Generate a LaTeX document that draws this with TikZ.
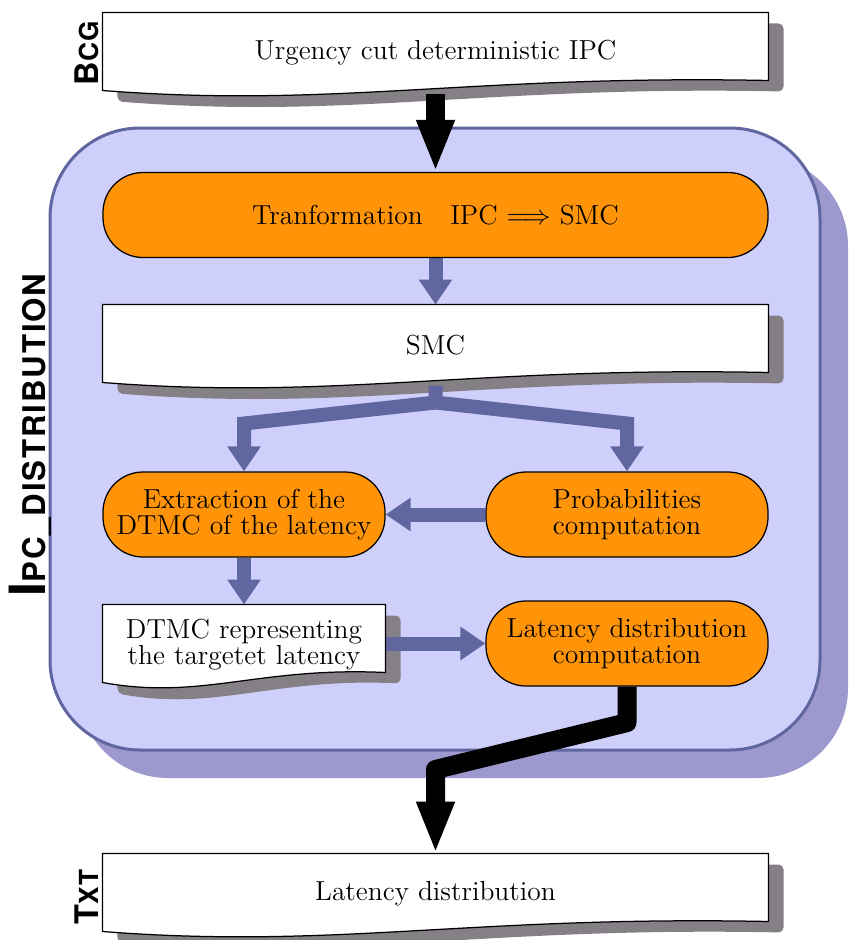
\documentclass[tikz,border=0pt]{standalone}
\usepackage{fontspec}
\newfontfamily\lblfont[LetterSpace=6]{TeX Gyre Heros}
\usetikzlibrary{arrows.meta,calc}
\definecolor{contfill}{HTML}{CFCFFB}
\definecolor{contline}{HTML}{6066A0}
\definecolor{contshadow}{HTML}{9D99CE}
\definecolor{procorange}{HTML}{FF9408}
\definecolor{docshadow}{HTML}{858085}
\definecolor{arrowblue}{HTML}{6066A0}
\pgfdeclarelayer{l0}\pgfdeclarelayer{l1}\pgfdeclarelayer{l2}\pgfdeclarelayer{l3}
\pgfsetlayers{l0,l1,l2,l3,main}
% #1 node, #2 #3 offset (px), #4 options
\newcommand{\docshape}[4]{\path[#4]
 ($(#1.north west)+(#2,#3)$) -- ($(#1.north east)+(#2,#3)$) -- ($(#1.north east)+(#2,#3+68)$)
 .. controls ($(#1.north west)!0.55!(#1.north east)+(#2,#3+62)$) and ($(#1.north west)!0.35!(#1.north east)+(#2,#3+96)$) .. ($(#1.north west)+(#2,#3+78)$) -- cycle;}
\tikzset{
 doc/.style={rectangle, minimum width=266pt, minimum height=32pt, inner sep=0pt, align=center, font=\fontsize{11}{10.5}\selectfont},
 proc/.style={rectangle, draw=black, line width=0.5pt, fill=procorange, rounded corners=16pt, minimum width=112.8pt, minimum height=34pt, inner sep=0pt, align=center, font=\fontsize{11}{10.5}\selectfont},
 blk/.style={draw=black, line width=7.6pt, line join=round, -{Triangle[length=20.8pt,width=14pt]}},
 blu/.style={draw=arrowblue, line width=5.6pt, -{Triangle[length=10pt,width=12.8pt]}},
 lbl/.style={rotate=90, inner sep=0pt, font=\lblfont\bfseries},
}
\begin{document}
\begin{tikzpicture}[x=0.4pt,y=-0.4pt]
\useasboundingbox (0,0) rectangle (850,940);
% container
\begin{pgfonlayer}{l0}
\fill[contshadow, rounded corners=36pt] (78,156) rectangle (848,778);
\draw[contline, fill=contfill, line width=1.2pt, rounded corners=36pt] (50,128) rectangle (820,750);
\end{pgfonlayer}
\node[lbl, anchor=base] (lipc) at (45,435) {\fontsize{20}{20}\selectfont I\fontsize{12.5}{12}\selectfont PC\_DISTRIBUTION};
% nodes
\node[doc] (bcg) at (435.5,53) {Urgency cut deterministic IPC};
\node[proc, minimum width=266pt] (tr) at (435.5,215) {Tranformation\quad IPC $\Longrightarrow$ SMC};
\node[doc] (smc) at (435.5,345) {SMC};
\node[proc] (ext) at (244,514.5) {Extraction of the\\DTMC of the latency};
\node[proc] (prob) at (627,514.5) {Probabilities\\computation};
\node[doc, minimum width=112.8pt] (dtmc) at (244,645) {DTMC representing\\the targetet latency};
\node[proc] (lat) at (627,643.5) {Latency distribution\\computation};
\node[doc] (txt) at (435.5,894) {Latency distribution};
\node[lbl, anchor=south] (lbcg) at ($(bcg.west)+(-3,0)$) {\fontsize{13}{14}\selectfont B\fontsize{10.5}{12}\selectfont CG};
\node[lbl, anchor=south] (ltxt) at ($(txt.west)+(-3,3)$) {\fontsize{13}{14}\selectfont T\fontsize{10.5}{12}\selectfont XT};
\coordinate (split) at ($(smc.south)+(0,17)$);
% shadows
\begin{pgfonlayer}{l1}
\docshape{bcg}{15}{11}{fill=docshadow, rounded corners=2pt}
\docshape{smc}{15}{11}{fill=docshadow, rounded corners=2pt}
\docshape{dtmc}{15}{11}{fill=docshadow, rounded corners=2pt}
\docshape{txt}{15}{11}{fill=docshadow, rounded corners=2pt}
\end{pgfonlayer}
% connectors
\begin{pgfonlayer}{l2}
\draw[blk] (bcg.south) -- (tr.north);
\draw[blu] (tr.south) -- (smc.north);
\draw[blu] (smc.south) -- (split) -- ($(split -| ext.north)+(0,21)$) -- (ext.north);
\draw[blu] (split) -- ($(split -| prob.north)+(0,21)$) -- (prob.north);
\draw[blu] (prob.west) -- (ext.east);
\draw[blu] (ext.south) -- (dtmc.north);
\draw[blu] (lat.west -| dtmc.east) -- (lat.west);
\draw[blk] (lat.south) -- ++(0,36) -- ($(txt.north)+(0,-84)$) -- (txt.north);
\end{pgfonlayer}
% document bodies
\begin{pgfonlayer}{l3}
\docshape{bcg}{0}{0}{draw=black, fill=white, line width=0.5pt}
\docshape{smc}{0}{0}{draw=black, fill=white, line width=0.5pt}
\docshape{dtmc}{0}{0}{draw=black, fill=white, line width=0.5pt}
\docshape{txt}{0}{0}{draw=black, fill=white, line width=0.5pt}
\end{pgfonlayer}
\end{tikzpicture}
\end{document}
